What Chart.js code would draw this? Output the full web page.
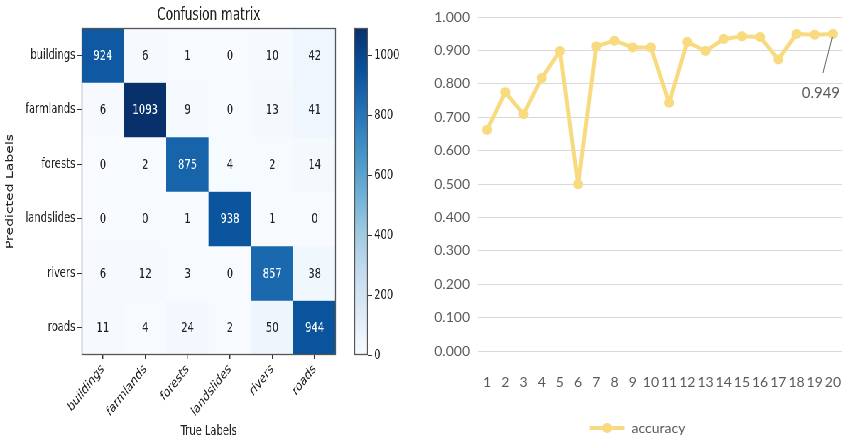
<!DOCTYPE html>
<html>
<head>
<meta charset="utf-8">
<script src="https://cdn.jsdelivr.net/npm/chart.js@4.4.1/dist/chart.umd.min.js"></script>
<style>
  body { margin: 0; background: #fff; width: 847px; height: 440px; overflow: hidden; position: relative; }
  canvas { position: absolute; top: 0; }
  /* the matrix figure is drawn wide and condensed horizontally */
  #left { position: absolute; left: 0; top: 0; width: 592px; height: 440px;
          transform: scaleX(0.71); transform-origin: 0 0; }
</style>
</head>
<body>
<div id="left">
  <canvas id="cm" width="486" height="440" style="left:0"></canvas>
  <canvas id="cb" width="106" height="440" style="left:486px"></canvas>
</div>
<canvas id="acc" width="414" height="440" style="left:433px"></canvas>
<script>
// ---- confusion matrix data (rows = predicted, columns = true) ----
const classLabels = ['buildings', 'farmlands', 'forests', 'landslides', 'rivers', 'roads'];
const rowBuildings  = [924,    6,   1,   0,  10,  42];
const rowFarmlands  = [  6, 1093,   9,   0,  13,  41];
const rowForests    = [  0,    2, 875,   4,   2,  14];
const rowLandslides = [  0,    0,   1, 938,   1,   0];
const rowRivers     = [  6,   12,   3,   0, 857,  38];
const rowRoads      = [ 11,    4,  24,   2,  50, 944];
const matrixRows = [rowBuildings, rowFarmlands, rowForests, rowLandslides, rowRivers, rowRoads];
const colorbarTicks = [0, 200, 400, 600, 800, 1000];

// ---- accuracy per epoch ----
const epochs = ['1','2','3','4','5','6','7','8','9','10','11','12','13','14','15','16','17','18','19','20'];
const accuracy = [0.662, 0.775, 0.709, 0.817, 0.898, 0.499, 0.912, 0.929, 0.909, 0.909,
                  0.743, 0.925, 0.898, 0.934, 0.942, 0.940, 0.873, 0.949, 0.947, 0.949];
const accuracyTicks = [0, 0.1, 0.2, 0.3, 0.4, 0.5, 0.6, 0.7, 0.8, 0.9, 1.0];

const MPL_FONT = "'DejaVu Sans', sans-serif";
const XL_FONT = "Lato, 'Open Sans', sans-serif";
const INK = '#222';

// matplotlib "Blues" colormap
const bluesStops = [
  [247,251,255],[222,235,247],[198,219,239],[158,202,225],[107,174,214],
  [66,146,198],[33,113,181],[8,81,156],[8,48,107]
];
function blues(t) {
  t = Math.max(0, Math.min(1, t));
  const p = t * (bluesStops.length - 1);
  const i = Math.min(Math.floor(p), bluesStops.length - 2);
  const f = p - i;
  const a = bluesStops[i], b = bluesStops[i + 1];
  const c = a.map((v, k) => Math.round(v + (b[k] - v) * f));
  return `rgb(${c[0]},${c[1]},${c[2]})`;
}

const cmMax = Math.max(...matrixRows.flat());

// frame around the plotting area (matplotlib spines)
const framePlugin = {
  id: 'frame',
  afterDraw(chart) {
    const { ctx, chartArea: a } = chart;
    ctx.save();
    ctx.strokeStyle = '#555';
    ctx.lineWidth = 1.3;
    ctx.strokeRect(a.left + 0.5, a.top + 0.5, a.right - a.left - 1, a.bottom - a.top - 1);
    ctx.restore();
  }
};

// count written in each cell
const cellTextPlugin = {
  id: 'cellText',
  afterDatasetsDraw(chart) {
    const { ctx } = chart;
    ctx.save();
    ctx.font = `14px ${MPL_FONT}`;
    ctx.textAlign = 'center';
    ctx.textBaseline = 'middle';
    chart.data.datasets.forEach((ds, r) => {
      chart.getDatasetMeta(r).data.forEach((el, c) => {
        const { x, y, base } = el.getProps(['x', 'y', 'base'], true);
        const v = ds.counts[c];
        ctx.fillStyle = v > cmMax / 2 ? '#fff' : INK;
        ctx.fillText(String(v), x, (y + base) / 2 + 1);
      });
    });
    ctx.restore();
  }
};

new Chart(document.getElementById('cm'), {
  type: 'bar',
  data: {
    labels: classLabels,
    datasets: matrixRows.map((row, r) => ({
      label: classLabels[r],
      data: row.map(() => [r - 0.5, r + 0.5]),
      counts: row,
      backgroundColor: row.map(v => blues(v / cmMax)),
      borderWidth: 0,
      barPercentage: 1,
      categoryPercentage: 1,
      grouped: false
    }))
  },
  options: {
    responsive: false,
    animation: false,
    layout: { padding: { left: 0, right: 13, top: 0, bottom: 0 } },
    plugins: {
      legend: { display: false },
      tooltip: { enabled: false },
      title: {
        display: true,
        fullSize: false,
        text: 'Confusion matrix',
        color: INK,
        font: { family: MPL_FONT, size: 17, weight: 'normal' },
        padding: { top: 5, bottom: 2.6 }
      }
    },
    scales: {
      x: {
        type: 'category',
        offset: true,
        grid: { offset: false, drawOnChartArea: false, drawTicks: true, tickLength: 4, color: '#333', lineWidth: 1.4 },
        border: { display: false },
        ticks: { minRotation: 42, maxRotation: 42, autoSkip: false, padding: 2, color: INK,
                 font: { family: MPL_FONT, size: 14 } },
        title: { display: true, text: 'True Labels', color: INK,
                 font: { family: MPL_FONT, size: 14 }, padding: { top: 0, bottom: 0 } },
        afterFit(s) { s.height = 85; }
      },
      y: {
        type: 'linear',
        reverse: true,
        min: -0.5,
        max: 5.5,
        afterBuildTicks(s) { s.ticks = classLabels.map((_, i) => ({ value: i })); },
        grid: { drawOnChartArea: false, drawTicks: true, tickLength: 6, color: '#333' },
        border: { display: false },
        ticks: { callback: v => classLabels[v], padding: 3, color: INK,
                 font: { family: MPL_FONT, size: 14 } },
        title: { display: true, text: 'Predicted Labels', color: INK,
                 font: { family: MPL_FONT, size: 14 }, padding: { top: 6, bottom: 2 } },
        afterFit(s) { s.width = 115; }
      }
    }
  },
  plugins: [cellTextPlugin, framePlugin]
});

// colour bar
new Chart(document.getElementById('cb'), {
  type: 'bar',
  data: {
    labels: [''],
    datasets: [{
      data: [cmMax],
      borderWidth: 0,
      barPercentage: 1,
      categoryPercentage: 1,
      backgroundColor(ctx) {
        const chart = ctx.chart;
        const y = chart.scales.y;
        if (!y || !chart.chartArea) return blues(0.5);
        const g = chart.ctx.createLinearGradient(0, y.getPixelForValue(0), 0, y.getPixelForValue(cmMax));
        for (let i = 0; i <= 16; i++) g.addColorStop(i / 16, blues(i / 16));
        return g;
      }
    }]
  },
  options: {
    responsive: false,
    animation: false,
    layout: { padding: { left: 13, right: 0, top: 28, bottom: 85 } },
    plugins: { legend: { display: false }, tooltip: { enabled: false } },
    scales: {
      x: { display: false },
      y: {
        position: 'right',
        min: 0,
        max: cmMax,
        afterBuildTicks(s) { s.ticks = colorbarTicks.map(v => ({ value: v })); },
        grid: { drawOnChartArea: false, drawTicks: true, tickLength: 6, color: '#333' },
        border: { display: false },
        ticks: { callback: v => String(v), padding: 3, color: INK, font: { family: MPL_FONT, size: 14 } },
        afterFit(s) { s.width = 74; }
      }
    }
  },
  plugins: [framePlugin]
});

// value label with leader line on the last epoch
const lastValuePlugin = {
  id: 'lastValue',
  afterDatasetsDraw(chart) {
    const meta = chart.getDatasetMeta(0);
    const pt = meta.data[meta.data.length - 1];
    const v = chart.data.datasets[0].data[meta.data.length - 1];
    const { ctx } = chart;
    ctx.save();
    ctx.strokeStyle = '#666';
    ctx.lineWidth = 1;
    ctx.beginPath();
    ctx.moveTo(pt.x - 0.5, pt.y + 3);
    ctx.lineTo(pt.x - 10, pt.y + 39);
    ctx.stroke();
    ctx.fillStyle = '#595959';
    ctx.font = `15px ${XL_FONT}`;
    ctx.textAlign = 'center';
    ctx.textBaseline = 'middle';
    ctx.fillText(v.toFixed(3), pt.x - 12, pt.y + 59);
    ctx.restore();
  }
};

// marker drawn on the legend line
const legendMarkerPlugin = {
  id: 'legendMarker',
  afterDraw(chart) {
    const hb = chart.legend && chart.legend.legendHitBoxes && chart.legend.legendHitBoxes[0];
    if (!hb) return;
    const bw = chart.options.plugins.legend.labels.boxWidth;
    const { ctx } = chart;
    ctx.save();
    ctx.fillStyle = chart.data.datasets[0].borderColor;
    ctx.beginPath();
    ctx.arc(hb.left + bw / 2, hb.top + hb.height / 2, 5, 0, Math.PI * 2);
    ctx.fill();
    ctx.restore();
  }
};

const lineYellow = '#f8da80';
new Chart(document.getElementById('acc'), {
  type: 'line',
  data: {
    labels: epochs,
    datasets: [{
      label: 'accuracy',
      data: accuracy,
      borderColor: lineYellow,
      backgroundColor: lineYellow,
      pointBackgroundColor: lineYellow,
      pointBorderWidth: 0,
      pointRadius: 5,
      borderWidth: 4,
      borderJoinStyle: 'round',
      borderCapStyle: 'round',
      tension: 0
    }]
  },
  options: {
    responsive: false,
    animation: false,
    layout: { padding: { left: 0, right: 5, top: 17, bottom: -5 } },
    plugins: {
      tooltip: { enabled: false },
      legend: {
        position: 'bottom',
        labels: {
          boxWidth: 35, boxHeight: 4, padding: 10, color: '#595959',
          font: { family: XL_FONT, size: 14 },
          generateLabels(chart) {
            return Chart.defaults.plugins.legend.labels.generateLabels(chart)
              .map(item => ({ ...item, lineWidth: 0 }));
          }
        }
      }
    },
    scales: {
      x: {
        offset: true,
        grid: { display: true, drawOnChartArea: false, drawTicks: true, tickLength: 20, color: 'rgba(0,0,0,0)' },
        border: { display: false },
        ticks: { autoSkip: false, maxRotation: 0, padding: 3, color: '#595959',
                 font: { family: XL_FONT, size: 14 } },
        afterFit(s) { s.height = 60; }
      },
      y: {
        min: 0,
        max: 1,
        afterBuildTicks(s) { s.ticks = accuracyTicks.map(v => ({ value: v })); },
        grid: { color: '#d9d9d9', drawTicks: false },
        border: { display: false },
        ticks: { callback: v => v.toFixed(3), padding: 8, color: '#595959',
                 font: { family: XL_FONT, size: 14 } },
        afterFit(s) { s.width = 45; }
      }
    }
  },
  plugins: [lastValuePlugin, legendMarkerPlugin]
});
</script>
</body>
</html>
